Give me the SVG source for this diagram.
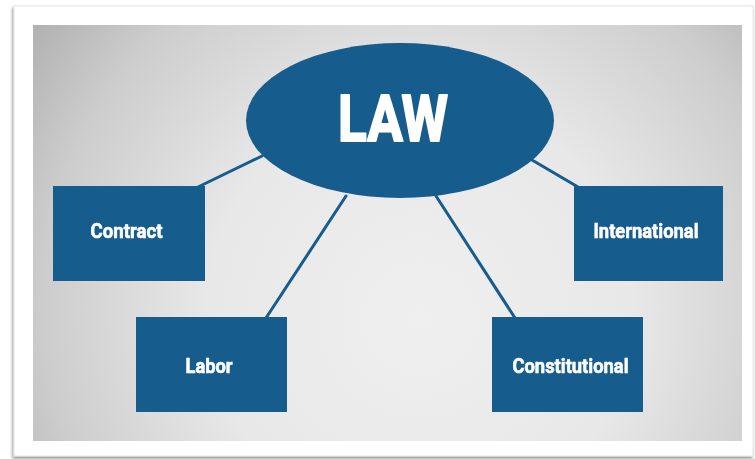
<svg xmlns="http://www.w3.org/2000/svg" width="755" height="459" viewBox="0 0 755 459">
  <defs>
    <radialGradient id="panelFill" gradientUnits="userSpaceOnUse" cx="420" cy="300" r="470" fx="420" fy="320">
      <stop offset="0" stop-color="#efefef"/>
      <stop offset="0.45" stop-color="#e8e8e8"/>
      <stop offset="0.8" stop-color="#cdcdcd"/>
      <stop offset="1" stop-color="#b2b2b2"/>
    </radialGradient>
    <filter id="cardShadow" x="-5%" y="-5%" width="110%" height="110%">
      <feDropShadow dx="-1" dy="2" stdDeviation="1.5" flood-color="#000" flood-opacity="0.45"/>
    </filter>
    <filter id="soft" x="-5%" y="-5%" width="110%" height="110%">
      <feGaussianBlur stdDeviation="0.5"/>
    </filter>
  </defs>
  <style>
    .node { fill: #185b8d; }
    .link { stroke: #185b8d; stroke-width: 3; fill: none; stroke-linecap: round; }
    .label { fill: #ffffff; stroke: #ffffff; stroke-linejoin: round; font-family: Roboto, "Liberation Sans", sans-serif; font-weight: bold; text-anchor: middle; }
    .small { font-size: 21px; stroke-width: 0.6; }
    .title { font-size: 64px; stroke-width: 2; }
  </style>

  <!-- page and card -->
  <rect width="755" height="459" fill="#ffffff"/>
  <rect x="14" y="6" width="739" height="450" fill="#ffffff" stroke="#e6e6e6" stroke-width="1" filter="url(#cardShadow)"/>
  <rect x="33" y="25" width="709" height="416" fill="url(#panelFill)"/>

  <g id="connectors" filter="url(#soft)">
    <line class="link" x1="262" y1="156" x2="198" y2="187"/>
    <line class="link" x1="346" y1="196" x2="266" y2="318"/>
    <line class="link" x1="436" y1="196" x2="515" y2="318"/>
    <line class="link" x1="532" y1="160" x2="578" y2="187"/>
  </g>

  <g id="law" filter="url(#soft)">
    <ellipse class="node" cx="400" cy="120.5" rx="154" ry="77.5"/>
    <text class="label title" x="393" y="141" textLength="110" lengthAdjust="spacingAndGlyphs">LAW</text>
  </g>

  <g id="contract" filter="url(#soft)">
    <rect class="node" x="53" y="186" width="152" height="95"/>
    <text class="label small" x="126.5" y="238" textLength="72" lengthAdjust="spacingAndGlyphs">Contract</text>
  </g>

  <g id="international" filter="url(#soft)">
    <rect class="node" x="574" y="186" width="149" height="95"/>
    <text class="label small" x="646" y="238" textLength="105" lengthAdjust="spacingAndGlyphs">International</text>
  </g>

  <g id="labor" filter="url(#soft)">
    <rect class="node" x="136" y="317" width="151" height="95"/>
    <text class="label small" x="209" y="373" textLength="47" lengthAdjust="spacingAndGlyphs">Labor</text>
  </g>

  <g id="constitutional" filter="url(#soft)">
    <rect class="node" x="492" y="317" width="151" height="95"/>
    <text class="label small" x="570.5" y="373" textLength="116" lengthAdjust="spacingAndGlyphs">Constitutional</text>
  </g>
</svg>
